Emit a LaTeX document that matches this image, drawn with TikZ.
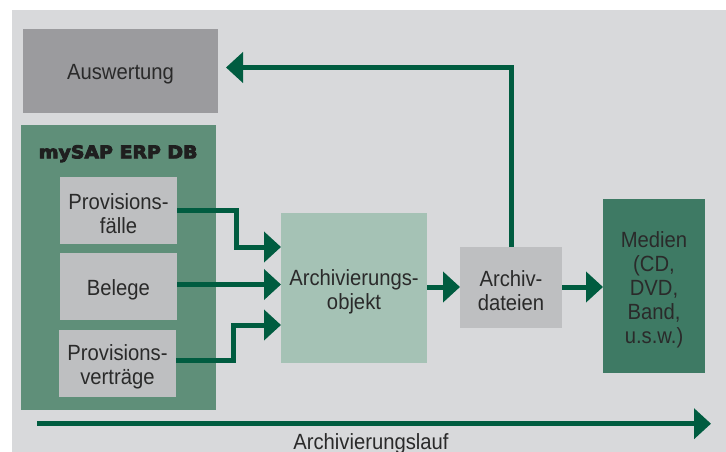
\documentclass[tikz,border=0pt]{standalone}
\usepackage{fontspec}
\setmainfont{Liberation Sans}[FakeStretch=0.92]
\newfontfamily\headfont{DejaVu Sans Bold}[FakeStretch=1.08,FakeBold=5]
\usetikzlibrary{arrows.meta}

\definecolor{panelgray}{HTML}{D8D9DB}
\definecolor{evalgray}{HTML}{9B9B9E}
\definecolor{dbgreen}{HTML}{5F8F79}
\definecolor{itemgray}{HTML}{BEBFC1}
\definecolor{objgreen}{HTML}{A5C2B5}
\definecolor{mediagreen}{HTML}{3E7A64}
\definecolor{flowgreen}{HTML}{005C40}
\definecolor{txt}{HTML}{2A2A2A}

\begin{document}
\begin{tikzpicture}[x=1pt,y=-1pt,
  panel/.style={inner sep=0pt, outer sep=0pt},
  caption/.style={inner sep=0pt, align=center, text=txt,
    font=\fontsize{22}{24}\selectfont},
  flow/.style={draw=flowgreen, line width=5pt,
    -{Triangle[length=17pt,width=30pt]}},
]
\useasboundingbox (0,0) rectangle (726,452);
\fill[panelgray] (12,10) rectangle (726,452);

% filled boxes
\node[panel, fill=evalgray, minimum width=195pt, minimum height=84pt] (ausw) at (120.5,71) {};
\node[panel, fill=dbgreen, minimum width=195pt, minimum height=285pt] (db) at (118.5,267.5) {};
\node[panel, fill=itemgray, minimum width=117pt, minimum height=67pt] (pf) at (118.5,210.5) {};
\node[panel, fill=itemgray, minimum width=117pt, minimum height=67pt] (bel) at (118.5,286.5) {};
\node[panel, fill=itemgray, minimum width=117pt, minimum height=67pt] (pv) at (117.5,363.5) {};
\node[panel, fill=objgreen, minimum width=146pt, minimum height=150pt] (ao) at (354,288) {};
\node[panel, fill=itemgray, minimum width=102pt, minimum height=81pt] (ad) at (511,287.5) {};
\node[panel, fill=mediagreen, minimum width=102pt, minimum height=174pt] (med) at (654,286) {};

% box captions
\node[caption] (ausw-t) at ([yshift=-3.5pt]ausw.center) {Auswertung};
\node[inner sep=0pt, anchor=base, text=black!88, font=\headfont\fontsize{17.5}{20}\selectfont] (db-t) at (118.2,158.3) {mySAP ERP DB};
\node[caption] (pf-t) at ([yshift=-3.5pt]pf.center) {Provisions-\\fälle};
\node[caption] (bel-t) at ([yshift=-3.5pt]bel.center) {Belege};
\node[caption] (pv-t) at ([yshift=-3.5pt]pv.center) {Provisions-\\verträge};
\node[caption] (ao-t) at ([yshift=-3.5pt]ao.center) {Archivierungs-\\objekt};
\node[caption] (ad-t) at ([yshift=-3.5pt]ad.center) {Archiv-\\dateien};
\node[caption] (med-t) at ([yshift=-3.5pt]med.center) {Medien\\(CD,\\DVD,\\Band,\\u.s.w.)};

% connectors
\draw[flow] (pf.east |- 0,210) -- (236.5,210) -- (236.5,247) -- (ao.west |- 0,247);
\draw[flow] (bel.east |- 0,284.5) -- (ao.west |- 0,284.5);
\draw[flow] (pv.east |- 0,360) -- (233.5,360) -- (233.5,325) -- (ao.west |- 0,325);
\draw[flow] (ao.east |- 0,287) -- (ad.west |- 0,287);
\draw[flow] (ad.east |- 0,287) -- (med.west |- 0,287);
\draw[flow, shorten >=8pt] (ad.north) -- (ad.north |- 0,67.5) -- (ausw.east |- 0,67.5);

% archiving run
\coordinate (runstart) at (37,423.7);
\coordinate (runend) at (711,423.7);
\draw[flow] (runstart) -- (runend);
\node[caption, anchor=base] (run-t) at (371,449) {Archivierungslauf};
\end{tikzpicture}
\end{document}
